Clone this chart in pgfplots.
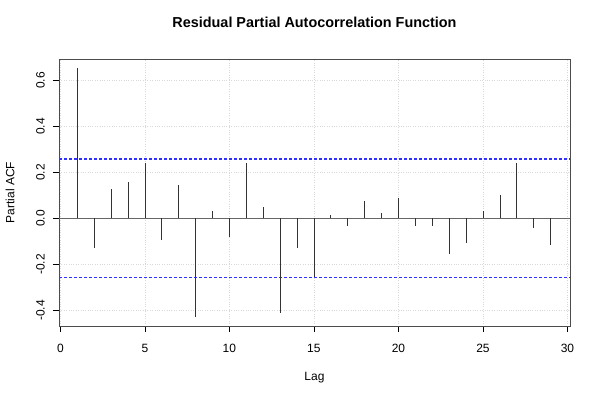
\documentclass[border=0pt]{standalone}
\usepackage{pgfplots}
\pgfplotsset{compat=1.18}
\usepackage{fontspec}
\setmainfont{Liberation Sans}
\definecolor{rblue}{RGB}{50,50,255}
\begin{document}
\fontsize{12bp}{14bp}\selectfont
\begin{tikzpicture}
\begin{axis}[
  name=ax,
  scale only axis,
  width=511bp, height=267bp,
  xmin=-0.08, xmax=30.15,
  ymin=-0.468, ymax=0.693,
  xtick={0,5,10,15,20,25,30},
  xticklabels={0,5,10,15,20,25,30},
  ytick={-0.4,-0.2,0,0.2,0.4,0.6},
  yticklabels={-0.4,-0.2,0.0,0.2,0.4,0.6},
  xtick pos=bottom, ytick pos=left,
  tick align=outside,
  major tick length=6bp,
  tick style={black, line width=0.6bp},
  axis line style={black!70, line width=0.8bp},
  grid=major,
  grid style={black!15, dotted, line width=0.6bp},
  x tick label style={font=\fontsize{12bp}{14bp}\selectfont, yshift=-8bp},
  y tick label style={font=\fontsize{12bp}{14bp}\selectfont, xshift=-4bp, rotate=90, anchor=south},
  clip=true,
]
\addplot[draw=black!60, line width=0.8bp] coordinates {(-0.08,0) (30.15,0)};
\addplot[draw=rblue, line width=1.1bp, dash pattern=on 3bp off 2bp] coordinates {(-0.08,0.258) (30.15,0.258)};
\addplot[draw=rblue, line width=1.1bp, dash pattern=on 3bp off 2bp] coordinates {(-0.08,-0.258) (30.15,-0.258)};
\addplot[ycomb, draw=black!80, line width=0.7bp, mark=none] coordinates {
(1,0.652) (2,-0.130) (3,0.128) (4,0.158) (5,0.239) (6,-0.094) (7,0.145) (8,-0.428)
(9,0.032) (10,-0.080) (11,0.242) (12,0.049) (13,-0.410) (14,-0.130) (15,-0.257)
(16,0.014) (17,-0.032) (18,0.075) (19,0.022) (20,0.090) (21,-0.032) (22,-0.032)
(23,-0.155) (24,-0.106) (25,0.033) (26,0.101) (27,0.239) (28,-0.041) (29,-0.116)
};
\end{axis}
\node[font=\fontsize{14.4bp}{16bp}\selectfont\bfseries] at ([yshift=37bp]ax.north) {Residual Partial Autocorrelation Function};
\node[font=\fontsize{12bp}{14bp}\selectfont] at ([yshift=-52bp]ax.south) {Lag};
\node[font=\fontsize{12bp}{14bp}\selectfont, rotate=90] at ([xshift=-49bp]ax.west) {Partial ACF};
\path[use as bounding box] ([xshift=-59bp,yshift=-74bp]ax.south west) rectangle ([xshift=30bp,yshift=59bp]ax.north east);
\end{tikzpicture}
\end{document}
